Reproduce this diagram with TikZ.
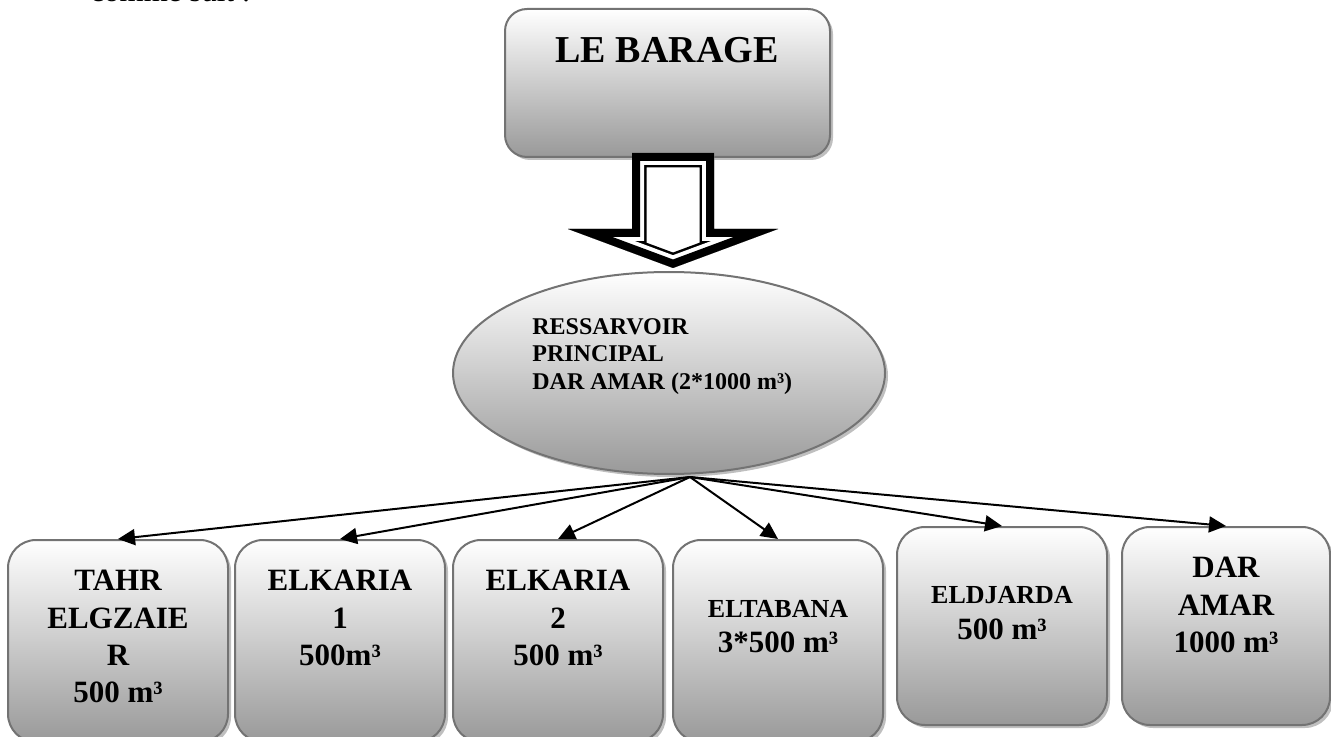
\documentclass[tikz,border=0pt]{standalone}
\usepackage{fontspec}
\setmainfont{Liberation Serif}
\usetikzlibrary{arrows.meta,shadows,shapes.geometric}

\begin{document}
\begin{tikzpicture}[x=0.5pt, y=-0.5pt,
  tank/.style={draw=black!55, line width=1pt, rounded corners=14pt,
    top color=white, bottom color=black!40,
    minimum width=105pt, minimum height=101pt,
    drop shadow={shadow xshift=1.5pt, shadow yshift=-1.5pt, fill=black!25, opacity=1}},
  lbl/.style={inner sep=0pt, anchor=north, align=center,
    font=\bfseries\fontsize{15.5}{18.6}\selectfont},
  feed/.style={-{Triangle[length=8.5pt,width=8pt]}, line width=1pt}]
\useasboundingbox (0,0) rectangle (1331,737);

% texte du dessus
\node[anchor=base west, inner sep=0pt, font=\fontsize{15.5}{18}\selectfont] (intro) at (90,2) {comme suit :};

% le barrage
\node[tank, rounded corners=11pt, minimum width=162.5pt, minimum height=74pt] (barage) at (667.5,83) {};
\node[lbl, font=\bfseries\fontsize{19}{22}\selectfont] (tbarage) at (667,37) {LE BARAGE};

% grosse fleche
\fill[white] (632,153) -- (714,153) -- (714,229) -- (778,229) -- (673,268) -- (568,229) -- (632,229) -- cycle;
\begin{scope}
\clip (632,153) -- (714,153) -- (714,229) -- (778,229) -- (673,268) -- (568,229) -- (632,229) -- cycle;
\foreach \w/\c in {14.5pt/black, 12pt/white, 8pt/black}
  \draw[\c, line width=\w, line join=miter] (632,153) -- (714,153) -- (714,229) -- (778,229) -- (673,268) -- (568,229) -- (632,229) -- cycle;
\end{scope}

% reservoir principal
\node[ellipse, draw=black!55, line width=1pt, top color=white, bottom color=black!40,
  minimum width=216pt, minimum height=101pt,
  drop shadow={shadow xshift=1.5pt, shadow yshift=-1.5pt, fill=black!25, opacity=1}] (resv) at (669,373) {};
\node[lbl, anchor=north west, align=left, font=\bfseries\fontsize{12}{13.75}\selectfont] (tresv) at (532,318)
  {RESSARVOIR\\PRINCIPAL\\DAR AMAR (2*1000 m³)};

% reservoirs secondaires
\node[tank, minimum width=110pt] (tahr) at (118,641) {};
\node[tank] (kar1) at (340,641) {};
\node[tank] (kar2) at (558,641) {};
\node[tank] (taba) at (778,641) {};
\node[tank, minimum height=99pt] (djar) at (1002,626) {};
\node[tank, minimum width=104pt, minimum height=99pt] (amar) at (1226,626) {};

\node[lbl] (ttahr) at (118,570) {TAHR\\ELGZAIE\\R\\500 m³};
\node[lbl] (tkar1) at (340,570) {ELKARIA\\1\\500m³};
\node[lbl] (tkar2) at (558,570) {ELKARIA\\2\\500 m³};
\node[lbl, font=\bfseries\fontsize{15.5}{17.5}\selectfont] (ttaba) at (778,600) {{\fontsize{13}{17.5}\selectfont ELTABANA}\\3*500 m³};
\node[lbl, font=\bfseries\fontsize{15.5}{18}\selectfont] (tdjar) at (1002,586) {{\fontsize{13}{18}\selectfont ELDJARDA}\\500 m³};
\node[lbl] (tamar) at (1226,557) {DAR\\AMAR\\1000 m³};

% distribution
\coordinate (hub) at (690,477);
\foreach \t in {tahr,kar1,kar2,taba,djar,amar}
  \draw[feed] (hub) -- (\t.north);
\end{tikzpicture}
\end{document}
